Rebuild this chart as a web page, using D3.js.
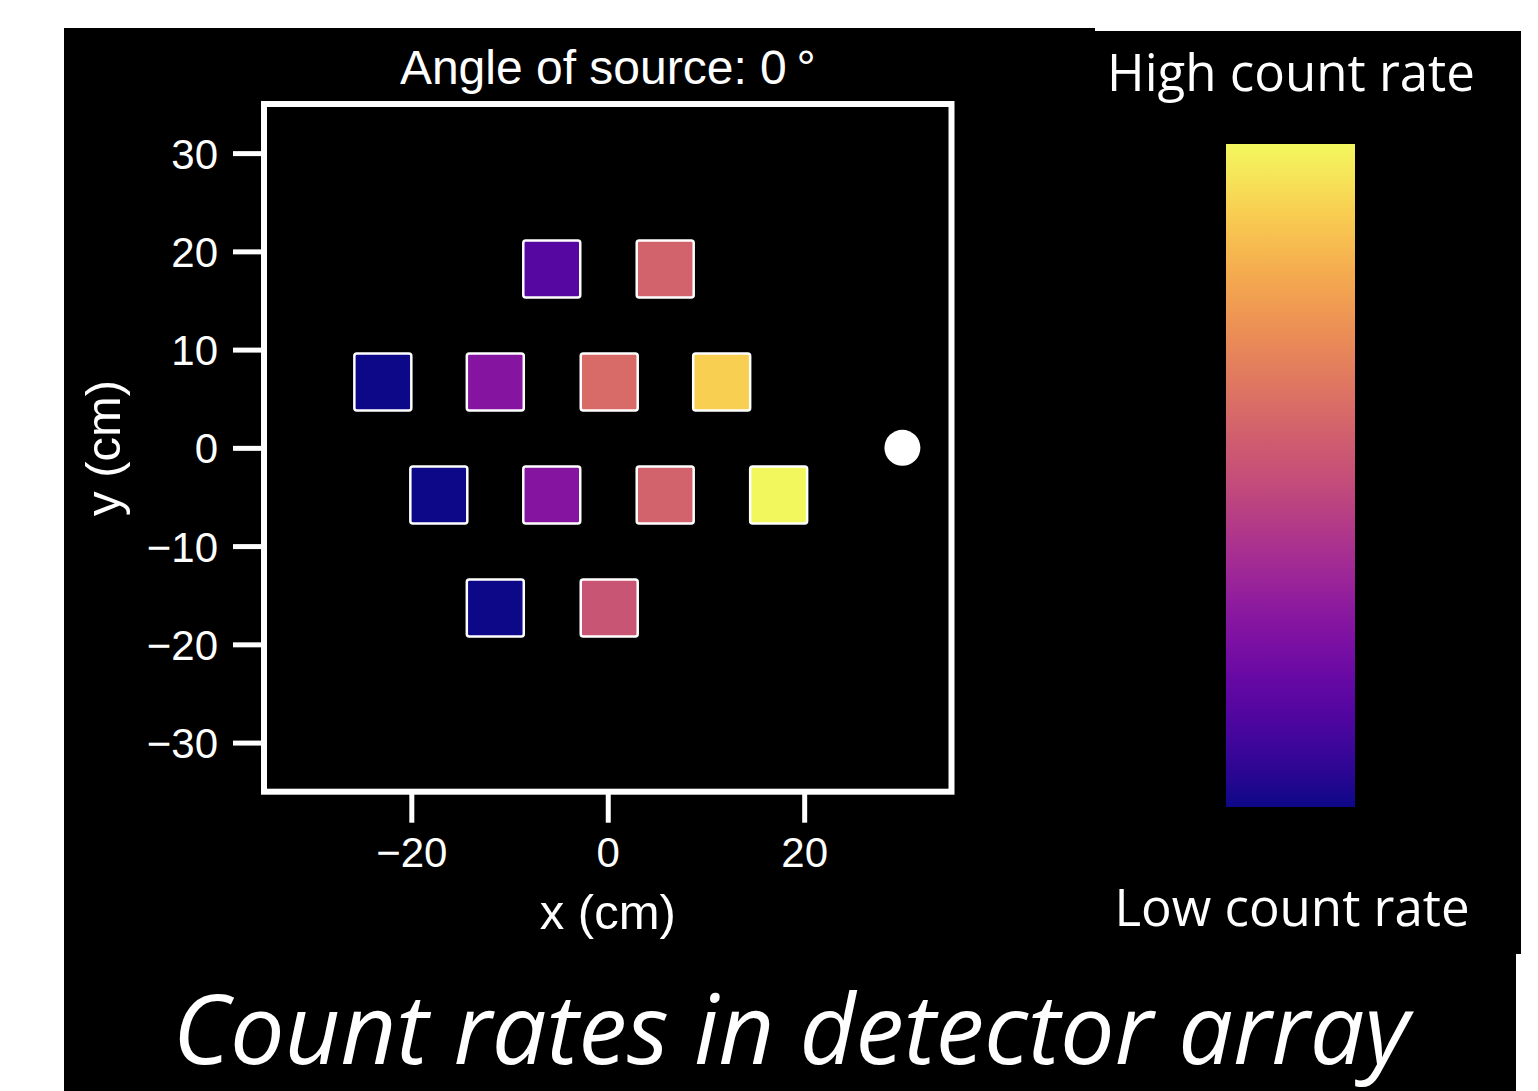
<!DOCTYPE html>
<html>
<head>
<meta charset="utf-8">
<script src="https://cdn.jsdelivr.net/npm/d3@7"></script>
<style>
  html, body { margin: 0; padding: 0; background: #fff; }
  svg { display: block; }
</style>
</head>
<body>
<div id="chart"></div>
<script>
// detector centres (cm) and normalised count rate
const detX = [-5.7, 5.85, -22.9, -11.45, 0.15, 11.6, -17.2, -5.7, 5.85, 17.4, -11.45, 0.15];
const detY = [18.2, 18.2, 6.7, 6.7, 6.7, 6.7, -4.8, -4.8, -4.8, -4.8, -16.3, -16.3];
const countRate = [0.15, 0.57, 0.0, 0.28, 0.6, 0.9, 0.0, 0.28, 0.57, 1.0, 0.0, 0.52];
const detSize = 5.8;               // side of a detector, cm
const sourcePos = [30, 0];         // source position, cm
const sourceAngle = 0;

const xDomain = [-35, 35];
const yDomain = [-35, 35];
const xTicks = [-20, 0, 20];
const yTicks = [-30, -20, -10, 0, 10, 20, 30];

const W = 1538, H = 1091;
const tickFont = "'Liberation Sans', Arial, Helvetica, sans-serif";
const slideFont = "'Open Sans', sans-serif";

const svg = d3.select("#chart").append("svg")
    .attr("width", W)
    .attr("height", H);

// black slide panels
svg.append("rect").attr("x", 64).attr("y", 28).attr("width", 1031).attr("height", H - 28).attr("fill", "#000");
svg.append("rect").attr("x", 1095).attr("y", 31).attr("width", 426).attr("height", 923).attr("fill", "#000");
svg.append("rect").attr("x", 1095).attr("y", 953).attr("width", 421).attr("height", H - 953).attr("fill", "#000");

const pLeft = 264, pRight = 951.5, pTop = 104, pBottom = 791.7;

const x = d3.scaleLinear().domain(xDomain).range([pLeft, pRight]);
const y = d3.scaleLinear().domain(yDomain).range([pBottom, pTop]);
// plasma, bright end a little muted like the screenshot
const mutedPlasma = t => {
  const c = d3.hcl(d3.interpolatePlasma(t));
  c.c *= 1 - 0.2 * t;
  return c.formatHex();
};
const color = d3.scaleSequential(mutedPlasma).domain([0, 1]);

const detectors = detX.map((d, i) => ({x: d, y: detY[i], c: countRate[i]}));

// axes
const yAxis = svg.append("g")
    .attr("transform", `translate(${pLeft},0)`)
    .call(d3.axisLeft(y).tickValues(yTicks).tickSize(31).tickPadding(15));
const xAxis = svg.append("g")
    .attr("transform", `translate(0,${pBottom})`)
    .call(d3.axisBottom(x).tickValues(xTicks).tickSize(31).tickPadding(14));

[xAxis, yAxis].forEach(g => {
  g.select(".domain").remove();
  g.selectAll(".tick line").attr("stroke", "#fff").attr("stroke-width", 5);
  g.selectAll(".tick text")
    .attr("fill", "#fff")
    .style("font-family", tickFont)
    .style("font-size", "42px");
});
yAxis.selectAll(".tick text").attr("dy", "0.36em");

// frame
svg.append("rect")
    .attr("x", pLeft).attr("y", pTop)
    .attr("width", pRight - pLeft).attr("height", pBottom - pTop)
    .attr("fill", "none")
    .attr("stroke", "#fff")
    .attr("stroke-width", 6);

// detectors
svg.append("g")
  .selectAll("rect")
  .data(detectors)
  .join("rect")
    .attr("x", d => x(d.x - detSize / 2))
    .attr("y", d => y(d.y + detSize / 2))
    .attr("width", d => x(d.x + detSize / 2) - x(d.x - detSize / 2))
    .attr("height", d => y(d.y - detSize / 2) - y(d.y + detSize / 2))
    .attr("rx", 2.5)
    .attr("fill", d => color(d.c))
    .attr("stroke", "#fff")
    .attr("stroke-width", 2.5);

// source
svg.append("circle")
    .attr("cx", x(sourcePos[0]))
    .attr("cy", y(sourcePos[1]))
    .attr("r", 18)
    .attr("fill", "#fff");

// labels
svg.append("text")
    .attr("x", (pLeft + pRight) / 2).attr("y", 84)
    .attr("text-anchor", "middle")
    .attr("fill", "#fff")
    .style("font-family", tickFont)
    .style("font-size", "48px")
    .text(`Angle of source: ${sourceAngle}\u2009°`);

svg.append("text")
    .attr("x", (pLeft + pRight) / 2).attr("y", 929)
    .attr("text-anchor", "middle")
    .attr("fill", "#fff")
    .style("font-family", tickFont)
    .style("font-size", "49px")
    .text("x (cm)");

svg.append("text")
    .attr("transform", `translate(120,${(pTop + pBottom) / 2}) rotate(-90)`)
    .attr("text-anchor", "middle")
    .attr("fill", "#fff")
    .style("font-family", tickFont)
    .style("font-size", "49px")
    .text("y (cm)");

// colour bar
const grad = svg.append("defs").append("linearGradient")
    .attr("id", "plasma")
    .attr("x1", 0).attr("y1", 1).attr("x2", 0).attr("y2", 0);
grad.selectAll("stop")
  .data(d3.range(0, 1.0001, 0.05))
  .join("stop")
    .attr("offset", d => d)
    .attr("stop-color", d => color(d));

svg.append("rect")
    .attr("x", 1226).attr("y", 144)
    .attr("width", 129).attr("height", 663)
    .attr("fill", "url(#plasma)");

svg.append("text")
    .attr("x", 1291).attr("y", 91)
    .attr("text-anchor", "middle")
    .attr("fill", "#fff")
    .style("font-family", slideFont)
    .style("font-size", "51px")
    .text("High count rate");

svg.append("text")
    .attr("x", 1292).attr("y", 926)
    .attr("text-anchor", "middle")
    .attr("fill", "#fff")
    .style("font-family", slideFont)
    .style("font-size", "51px")
    .text("Low count rate");

svg.append("text")
    .attr("x", 791).attr("y", 1064)
    .attr("text-anchor", "middle")
    .attr("fill", "#fff")
    .style("font-family", slideFont)
    .style("font-style", "italic")
    .style("font-size", "97px")
    .text("Count rates in detector array");
</script>
</body>
</html>
